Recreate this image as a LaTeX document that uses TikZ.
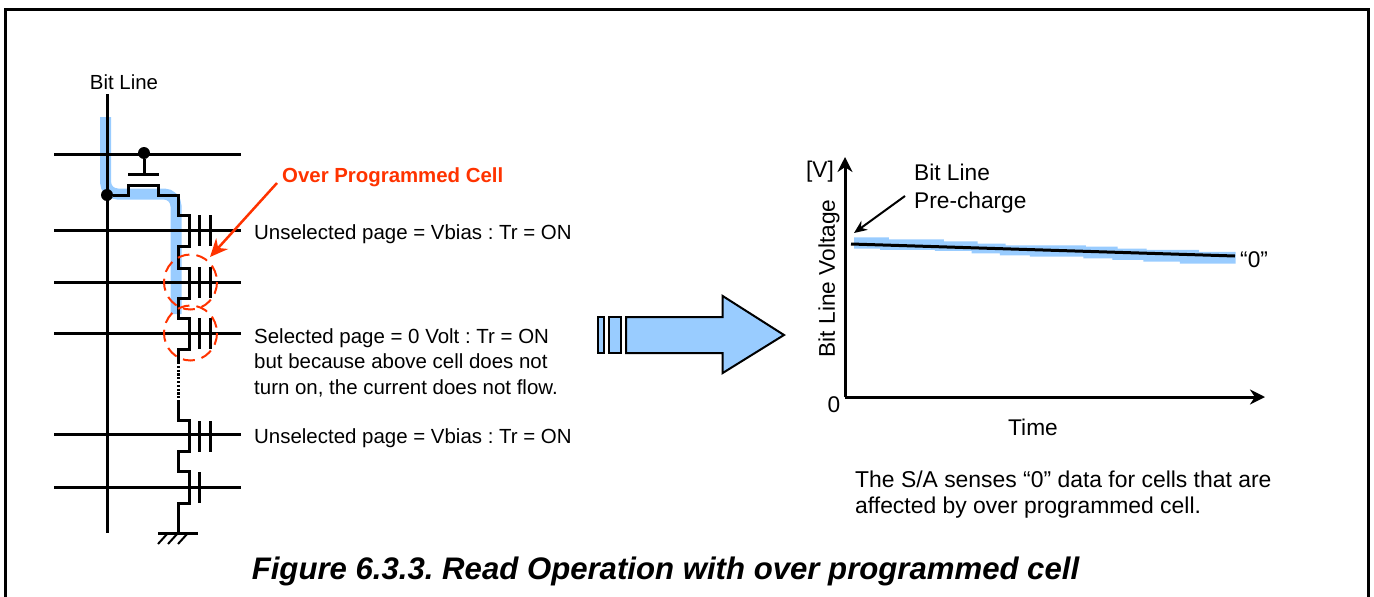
\documentclass[tikz,border=0pt]{standalone}
\usepackage{fontspec}
\setmainfont{Liberation Sans}
\usetikzlibrary{arrows.meta}
\definecolor{bandblue}{HTML}{99CCFF}
\definecolor{redorange}{HTML}{FF3300}
\tikzset{
  wire/.style={line width=3pt,black,line join=miter},
  thin wire/.style={line width=2pt,black},
  dotnode/.style={circle,fill=black,inner sep=0pt,minimum size=12pt},
  lbl/.style={inner sep=0pt,anchor=west,font=\fontsize{20.45pt}{24pt}\selectfont},
  big/.style={inner sep=0pt,anchor=west,font=\fontsize{22.7pt}{26pt}\selectfont},
  bigc/.style={inner sep=0pt,font=\fontsize{22.7pt}{26pt}\selectfont},
  note/.style={inner sep=0pt,anchor=west,font=\fontsize{22.9pt}{26pt}\selectfont},
  block/.style={draw=black,line width=2pt,fill=bandblue,line join=miter},
}
\begin{document}
\frenchspacing
\begin{tikzpicture}[x=1pt,y=-1pt]
\useasboundingbox (0,0) rectangle (1374,597);
% frame
\draw[line width=3pt] (5.5,597) -- (5.5,9.5) -- (1368.5,9.5) -- (1368.5,597);
% blue current band
\draw[bandblue,line width=11pt,rounded corners=12pt] (105.5,117) -- (105.5,194) -- (176,194) -- (176,314);
% word lines and bit line
\foreach \y in {154,230,282,333,434,487} \draw[wire] (54,\y) -- (241,\y);
\draw[wire] (107,94) -- (107,533);
\node[dotnode] (d1) at (144,153) {};
\node[dotnode] (d2) at (107,195) {};
% select transistor
\coordinate (g) at (144,174.5);
\draw[wire] (d1) -- (g);
\draw[wire] (128,174.5) -- (159,174.5);
% string
\draw[wire] (d2) -- (128,195) -- (128,185) -- (158,185) -- (158,195) -- (178,195) -- (178,215) -- (189,215)
  -- (189,246) -- (178,246) -- (178,268) -- (189,268) -- (189,298) -- (178,298) -- (178,318) -- (189,318)
  -- (189,349) -- (178,349) -- (178,362);
\draw[line width=3pt,dash pattern=on 2.2pt off 1.6pt] (178,362) -- (178,398);
\draw[wire] (178,400) -- (178,420) -- (189,420) -- (189,451) -- (178,451) -- (178,471) -- (189,471)
  -- (189,503) -- (178,503) -- (178,533);
% gates
\foreach \a/\b in {215/246,267/298,318/349,421/452} {
  \draw[wire] (199,\a) -- (199,\b);
  \draw[wire] (210,\a) -- (210,\b);
}
\draw[wire] (199,472) -- (199,503);
% ground
\draw[wire] (158,533) -- (198,533);
\foreach \x in {168,178,188} \draw[thin wire] (\x,533) -- (\x-10,544);
% red rings
\draw[redorange,line width=2pt,dash pattern=on 12pt off 7pt] (190.5,282) ellipse (26.5 and 27.5);
\draw[redorange,line width=2pt,dash pattern=on 12pt off 7pt] (190.5,333) ellipse (26.5 and 27.5);
% labels left
\node[inner sep=0pt,font=\fontsize{20.4pt}{24pt}\selectfont] (bl) at (124,82) {Bit Line};
\node[lbl,text=redorange,font=\fontsize{20.4pt}{24pt}\selectfont\bfseries] (opc) at (282,177) {Over Programmed Cell};
\coordinate (opctip) at (210,257);
\coordinate (opcstart) at (277,183);
\draw[redorange,line width=2.5pt,-{Stealth[length=18pt,width=16pt]}] (opcstart) -- (opctip);
\node[lbl] (u1) at (254,234) {Unselected page = Vbias : Tr = ON};
\node[lbl] (s1) at (254,338) {Selected page = 0 Volt : Tr = ON};
\node[lbl] (s2) at (254,361) {but because above cell does not};
\node[lbl] (s3) at (254,388) {turn on, the current does not flow.};
\node[lbl] (u2) at (254,438) {Unselected page = Vbias : Tr = ON};
% big arrow
\draw[block] (597.5,317) rectangle (603.5,353);
\draw[block] (609,317) rectangle (621,353);
\draw[block] (626,317) -- (722.7,317) -- (722.7,296) -- (784,335) -- (722.7,373) -- (722.7,353) -- (626,353) -- cycle;
% graph band
\begin{scope}[shift={(800,150)},x=0.3333pt,y=-0.3333pt]
\fill[bandblue] (162,262) -- (267,262) -- (267,268) -- (432,268) -- (432,274) -- (533,274) -- (533,281) -- (617,281)
  -- (617,286) -- (858,286) -- (858,290) -- (953,290) -- (953,296) -- (1040,296) -- (1040,300) -- (1197,300)
  -- (1197,306) -- (1307,306) -- (1307,341) -- (1140,341) -- (1140,335) -- (1030,335) -- (1030,330) -- (937,330)
  -- (937,325) -- (850,325) -- (850,320) -- (690,320) -- (690,316) -- (600,316) -- (600,310) -- (515,310)
  -- (515,303) -- (405,303) -- (405,300) -- (240,300) -- (240,296) -- (162,296) -- cycle;
\end{scope}
% axes
\coordinate (orig) at (845,397);
\coordinate (ytop) at (845,157);
\coordinate (xend) at (1265,397);
\draw[wire,-{Stealth[length=15pt,width=15pt]}] (orig) -- (ytop);
\draw[wire,-{Stealth[length=15pt,width=15pt]}] (orig) -- (xend);
\coordinate (l0) at (851,244);
\coordinate (l1) at (1235,256);
\draw[wire] (l0) -- (l1);
\coordinate (pcs) at (905,196);
\coordinate (pct) at (854,233);
\draw[line width=2pt,-{Stealth[length=13pt,width=11pt]}] (pcs) -- (pct);
\node[big] (bl2) at (914,172) {Bit Line};
\node[big] (pc) at (914,203) {Pre-charge};
\node[bigc] (v) at (820,172) {[V]};
\node[bigc,rotate=90] (blv) at (829,278.5) {Bit Line Voltage};
\node[bigc] (zero) at (834,405) {0};
\node[bigc] (time) at (1033,427) {Time};
\node[big] (q0) at (1240,260) {“0”};
\node[note] (sa1) at (855,479) {The S/A senses “0” data for cells that are};
\node[note] (sa2) at (855,508) {affected by over programmed cell.};
\node[inner sep=0pt,font=\fontsize{31.15pt}{36pt}\selectfont\bfseries\itshape] (title) at (665.5,571) {Figure 6.3.3. Read Operation with over programmed cell};
\end{tikzpicture}
\end{document}
